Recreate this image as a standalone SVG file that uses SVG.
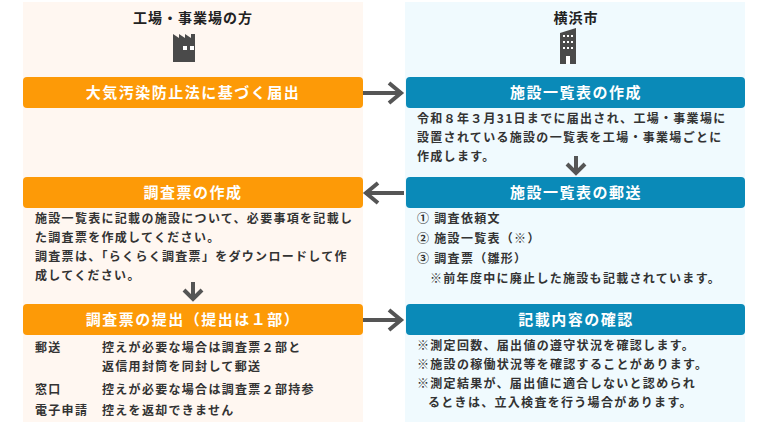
<svg xmlns="http://www.w3.org/2000/svg" width="768" height="432" viewBox="0 0 768 432">
<style>
text{font-family:"Noto Sans CJK JP","Noto Sans",sans-serif;}
.h{font-size:14px;font-weight:bold;fill:#222;letter-spacing:1px}
.bt{font-size:15px;font-weight:bold;fill:#fff;text-anchor:middle;letter-spacing:1.5px}
.b{font-size:12px;font-weight:bold;fill:#333;letter-spacing:1.3px}
.or{fill:#fd9a07}
.bl{fill:#0a8ab8}
.ar{fill:none;stroke:#555;stroke-width:4}
</style>
<rect x="23" y="2" width="340" height="420" fill="#fff7f1"/>
<rect x="405" y="2" width="340" height="420" fill="#f0fafe"/>
<g id="left-header">
<text class="h" x="193" y="23" text-anchor="middle">工場・事業場の方</text>
<path d="M173 62V34l6 4v-4l6 4v-4l6 4v-4l4 0v28z" fill="#4a4a4a"/>
<rect x="183" y="46" width="4" height="4" fill="#fff"/><rect x="190" y="46" width="4" height="4" fill="#fff"/>
</g>
<g id="right-header">
<text class="h" x="576" y="23" text-anchor="middle">横浜市</text>
<path d="M560 33l16-5v36h-16z" fill="#4a4a4a"/>
<g fill="#fff"><rect x="563" y="35" width="2" height="2"/><rect x="567" y="35" width="2" height="2"/><rect x="571" y="35" width="2" height="2"/><rect x="563" y="41" width="2" height="2"/><rect x="567" y="41" width="2" height="2"/><rect x="571" y="41" width="2" height="2"/><rect x="563" y="47" width="2" height="2"/><rect x="567" y="47" width="2" height="2"/><rect x="571" y="47" width="2" height="2"/><rect x="566" y="56" width="4" height="8"/></g>
</g>
<g id="n1"><rect class="or" x="23" y="77" width="340" height="31" rx="4"/><text class="bt" x="193" y="98">大気汚染防止法に基づく届出</text></g>
<g id="n2"><rect class="bl" x="406" y="77" width="339" height="31" rx="4"/><text class="bt" x="576" y="98">施設一覧表の作成</text>
<text class="b" x="417" y="123">令和８年３月31日までに届出され、工場・事業場に</text>
<text class="b" x="417" y="142">設置されている施設の一覧表を工場・事業場ごとに</text>
<text class="b" x="417" y="161">作成します。</text></g>
<g id="n3"><rect class="bl" x="406" y="177" width="339" height="31" rx="4"/><text class="bt" x="576" y="198">施設一覧表の郵送</text>
<text class="b" x="417" y="223">① 調査依頼文</text>
<text class="b" x="417" y="243">② 施設一覧表（※）</text>
<text class="b" x="417" y="263">③ 調査票（雛形）</text>
<text class="b" x="430" y="283">※前年度中に廃止した施設も記載されています。</text></g>
<g id="n4"><rect class="or" x="23" y="177" width="340" height="31" rx="4"/><text class="bt" x="193" y="198">調査票の作成</text>
<text class="b" x="35" y="223">施設一覧表に記載の施設について、必要事項を記載し</text>
<text class="b" x="35" y="242">た調査票を作成してください。</text>
<text class="b" x="35" y="261">調査票は、「らくらく調査票」をダウンロードして作</text>
<text class="b" x="35" y="280">成してください。</text></g>
<g id="n5"><rect class="or" x="23" y="304" width="340" height="31" rx="4"/><text class="bt" x="193" y="325">調査票の提出（提出は１部）</text>
<text class="b" x="35" y="352">郵送</text><text class="b" x="102" y="352">控えが必要な場合は調査票２部と</text>
<text class="b" x="102" y="371">返信用封筒を同封して郵送</text>
<text class="b" x="35" y="394">窓口</text><text class="b" x="102" y="394">控えが必要な場合は調査票２部持参</text>
<text class="b" x="35" y="415">電子申請</text><text class="b" x="102" y="415">控えを返却できません</text></g>
<g id="n6"><rect class="bl" x="406" y="304" width="339" height="31" rx="4"/><text class="bt" x="576" y="325">記載内容の確認</text>
<text class="b" x="417" y="350">※測定回数、届出値の遵守状況を確認します。</text>
<text class="b" x="417" y="369">※施設の稼働状況等を確認することがあります。</text>
<text class="b" x="417" y="388">※測定結果が、届出値に適合しないと認められ</text>
<text class="b" x="428" y="407">るときは、立入検査を行う場合があります。</text></g>
<g id="connectors">
<path class="ar" d="M363 93h38M389 83l12 10-12 10"/>
<path class="ar" d="M404 193h-38M378 183l-12 10 12 10"/>
<path class="ar" d="M363 320h38M389 310l12 10-12 10"/>
<path class="ar" d="M576 156v17M567 164l9 9 9-9"/>
<path class="ar" d="M193 282v17M184 290l9 9 9-9"/>
</g>
</svg>
